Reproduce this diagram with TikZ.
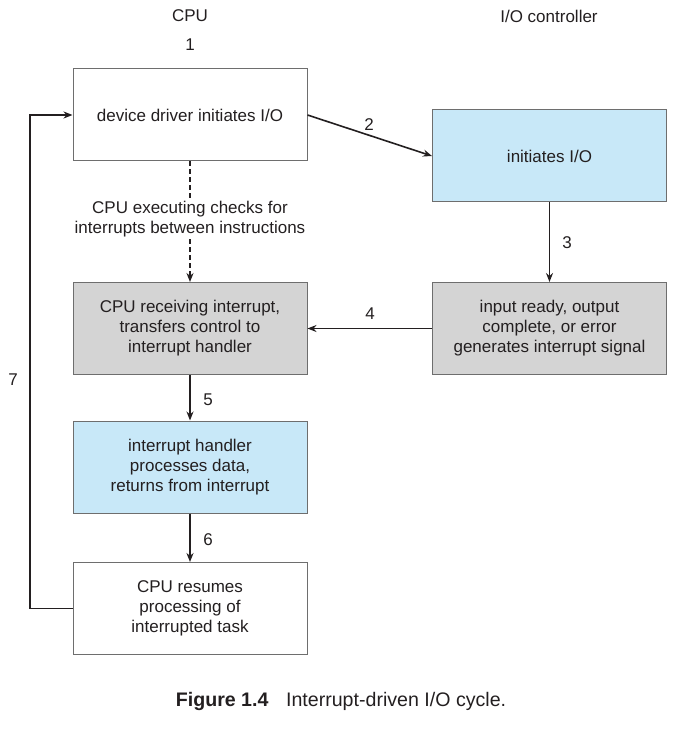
\documentclass[tikz,border=0pt]{standalone}
\usepackage{fontspec}
\setmainfont{Liberation Sans}
\usetikzlibrary{arrows.meta}
\definecolor{txt}{HTML}{231F20}
\definecolor{boxblue}{HTML}{C8E8F8}
\definecolor{boxgray}{HTML}{D4D4D4}
\definecolor{edge}{HTML}{6E6E6E}
\begin{document}
\begin{tikzpicture}[x=1pt,y=-1pt,
  every node/.style={text=txt,font=\fontsize{17}{20}\selectfont},
  stepbox/.style={draw=edge,line width=1pt,minimum width=234pt,minimum height=92pt,align=center,inner sep=0pt},
  conn/.style={draw=txt,line width=1.6pt,-{Stealth[length=9pt,width=7pt]}},
  lbl/.style={inner sep=1pt}]
\useasboundingbox (0,0) rectangle (688,735);
\node[lbl] (cpu) at (190,16) {CPU};
\node[lbl] (one) at (190,45) {1};
\node[lbl] (ioc) at (549,16) {I/O controller};
\node[stepbox,fill=white] (b1) at (190,115) {device driver initiates I/O};
\node[stepbox,fill=boxblue] (b2) at (549.5,156) {initiates I/O};
\node[align=center,inner sep=2pt] (chk) at (190,219) {CPU executing checks for\\interrupts between instructions};
\node[stepbox,fill=boxgray] (b3) at (190,328.5) {CPU receiving interrupt,\\transfers control to\\interrupt handler};
\node[stepbox,fill=boxgray] (b4) at (549.5,328.5) {input ready, output\\complete, or error\\generates interrupt signal};
\node[stepbox,fill=boxblue] (b5) at (190,467) {interrupt handler\\processes data,\\returns from interrupt};
\node[stepbox,fill=white] (b6) at (190,608.5) {CPU resumes\\processing of\\interrupted task};
\draw[conn] (b1.east) -- (b2.west);
\node[lbl] (two) at (369,125) {2};
\draw[draw=txt,line width=1.6pt,dash pattern=on 5pt off 3pt] (b1.south) -- (chk.north);
\draw[conn,dash pattern=on 5pt off 3pt] (chk.south) -- (b3.north);
\draw[conn] (b2.south) -- (b4.north);
\node[lbl] (three) at (567,243) {3};
\draw[conn] (b4.west) -- (b3.east);
\node[lbl] (four) at (370,314) {4};
\draw[conn] (b3.south) -- (b5.north);
\node[lbl] (five) at (208,400) {5};
\draw[conn] (b5.south) -- (b6.north);
\node[lbl] (six) at (208,540) {6};
\coordinate (lb) at (30,608.5);
\coordinate (lt) at (30,115);
\draw[conn] (b6.west) -- (lb) -- (lt) -- (b1.west);
\node[lbl] (seven) at (13,380) {7};
\node[inner sep=0pt,font=\fontsize{19.6}{22}\selectfont] (cap) at (341,701) {\textbf{Figure 1.4}\hspace{0.9em}Interrupt-driven I/O cycle.};
\end{tikzpicture}
\end{document}
